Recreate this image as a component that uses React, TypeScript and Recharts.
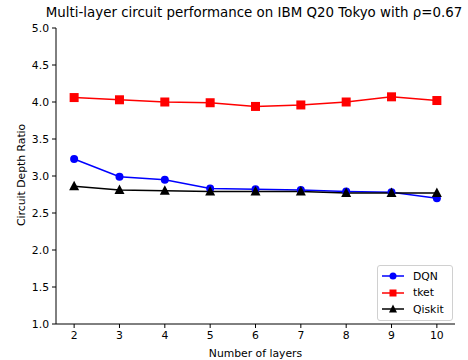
import React from 'react';
import { LineChart, Line, XAxis, YAxis, Legend } from 'recharts';

const layers = [2, 3, 4, 5, 6, 7, 8, 9, 10];
const dqn = [3.23, 2.99, 2.95, 2.83, 2.82, 2.81, 2.79, 2.78, 2.70];
const tket = [4.06, 4.03, 4.0, 3.99, 3.94, 3.96, 4.0, 4.07, 4.02];
const qiskit = [2.86, 2.81, 2.8, 2.79, 2.79, 2.79, 2.77, 2.77, 2.77];
const yTicks = [1.0, 1.5, 2.0, 2.5, 3.0, 3.5, 4.0, 4.5, 5.0];

const data = layers.map((l, i) => ({ layer: l, DQN: dqn[i], tket: tket[i], Qiskit: qiskit[i] }));

const FONT = 'DejaVu Sans, sans-serif';

const SquareDot = (props: any) => {
  const { cx, cy } = props;
  if (cx == null || cy == null) return null;
  return <rect x={cx - 4.5} y={cy - 4.5} width={9} height={9} fill="#ff0000" />;
};
const TriDot = (props: any) => {
  const { cx, cy } = props;
  if (cx == null || cy == null) return null;
  return <polygon points={`${cx},${cy - 5.5} ${cx - 5},${cy + 4} ${cx + 5},${cy + 4}`} fill="#000" />;
};

const icon = (name: string) => {
  const color = name === 'DQN' ? '#0000ff' : name === 'tket' ? '#ff0000' : '#000';
  return (
    <svg width={22} height={10} style={{ display: 'block' }}>
      <line x1={0} y1={5} x2={22} y2={5} stroke={color} strokeWidth={1.5} />
      {name === 'DQN' && <circle cx={11} cy={5} r={3.5} fill={color} />}
      {name === 'tket' && <rect x={7.5} y={1.5} width={7} height={7} fill={color} />}
      {name === 'Qiskit' && <polygon points="11,0.5 7,8.5 15,8.5" fill={color} />}
    </svg>
  );
};

const LegendBox = () => (
  <div style={{ border: '1px solid #d0d0d0', borderRadius: 3, background: 'rgba(255,255,255,0.8)', padding: '2px 6px 2px 4px', fontFamily: FONT, fontSize: 10.8, color: '#000', width: 64 }}>
    {['DQN', 'tket', 'Qiskit'].map((n) => (
      <div key={n} style={{ display: 'flex', alignItems: 'center', height: 16.5 }}>
        {icon(n)}
        <span style={{ marginLeft: 9 }}>{n}</span>
      </div>
    ))}
  </div>
);

export default function App() {
  return (
    <div style={{ position: 'absolute', left: 0, top: 0, width: 468, height: 360, background: '#fff' }}>
      <div style={{ position: 'absolute', left: 0, width: 508, top: 5, textAlign: 'center', fontFamily: FONT, fontSize: 13.4, color: '#000', whiteSpace: 'nowrap' }}>
        Multi-layer circuit performance on IBM Q20 Tokyo with ρ=0.67
      </div>
      <LineChart width={468} height={360} data={data} margin={{ top: 28, right: 13, bottom: 0, left: 0 }}>
        <XAxis dataKey="layer" type="number" domain={[1.6, 10.4]} ticks={layers} allowDataOverflow
          height={36} tickSize={4} tickMargin={3} stroke="#000" tickLine={{ stroke: '#000' }}
          tick={{ fill: '#000', fontSize: 10.8, fontFamily: FONT }}
          label={{ value: 'Number of layers', position: 'insideBottom', offset: 3, fill: '#000', fontSize: 10.8, fontFamily: FONT }} />
        <XAxis xAxisId="top" orientation="top" dataKey="layer" type="number" domain={[1.6, 10.4]} height={0} tick={false} tickLine={false} stroke="#000" />
        <YAxis type="number" domain={[1, 5]} ticks={yTicks} width={56} tickSize={4} tickMargin={3} stroke="#000"
          tickFormatter={(v: number) => v.toFixed(1)}
          tick={{ fill: '#000', fontSize: 10.8, fontFamily: FONT }}
          label={{ value: 'Circuit Depth Ratio', angle: -90, position: 'insideLeft', offset: 21, dy: 50, fill: '#000', fontSize: 10.8, fontFamily: FONT }} />
        <YAxis yAxisId="right" orientation="right" domain={[1, 5]} width={0} tick={false} tickLine={false} stroke="#000" />
        <Legend content={<LegendBox />} layout="horizontal" verticalAlign="middle" align="center"
          wrapperStyle={{ top: 265, left: 377, right: 'auto', bottom: 'auto', width: 'auto' }} />
        <Line dataKey="DQN" stroke="#0000ff" strokeWidth={1.5} dot={{ r: 4, fill: '#0000ff', stroke: '#0000ff', strokeWidth: 0 }} isAnimationActive={false} />
        <Line dataKey="tket" stroke="#ff0000" strokeWidth={1.5} dot={<SquareDot />} isAnimationActive={false} />
        <Line dataKey="Qiskit" stroke="#000" strokeWidth={1.5} dot={<TriDot />} isAnimationActive={false} />
      </LineChart>
    </div>
  );
}
